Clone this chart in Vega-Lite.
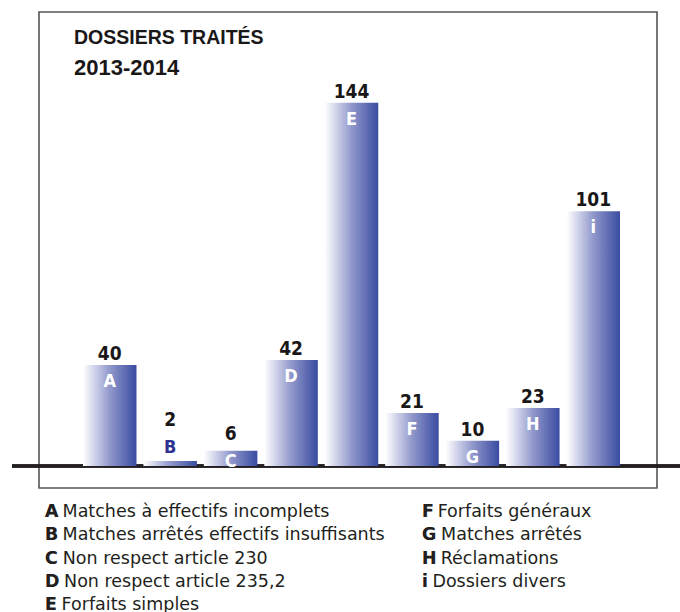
{
  "$schema": "https://vega.github.io/schema/vega-lite/v6.json",
  "autosize": "none",
  "width": 618,
  "height": 476,
  "padding": {"left": 39, "top": 12, "right": 23, "bottom": 124},
  "background": "white",
  "config": {"view": {"stroke": "#555555", "strokeWidth": 1.6}},
  "title": {
    "text": "DOSSIERS TRAITÉS",
    "subtitle": "2013-2014",
    "anchor": "start",
    "frame": "group",
    "orient": "top",
    "font": "Liberation Sans",
    "fontSize": 19.5,
    "fontWeight": "bold",
    "color": "#1a1718",
    "subtitleFont": "Liberation Sans",
    "subtitleFontSize": 22,
    "subtitleFontWeight": "bold",
    "subtitleColor": "#1a1718",
    "subtitlePadding": 10,
    "dx": 35,
    "offset": -68
  },
  "datasets": {
    "bars": [
      {"code": "A", "n": 40},
      {"code": "B", "n": 2},
      {"code": "C", "n": 6},
      {"code": "D", "n": 42},
      {"code": "E", "n": 144},
      {"code": "F", "n": 21},
      {"code": "G", "n": 10},
      {"code": "H", "n": 23},
      {"code": "i", "n": 101}
    ],
    "legend": [
      {"code": "A", "label": "Matches à effectifs incomplets"},
      {"code": "B", "label": "Matches arrêtés effectifs insuffisants"},
      {"code": "C", "label": "Non respect article 230"},
      {"code": "D", "label": "Non respect article 235,2"},
      {"code": "E", "label": "Forfaits simples"},
      {"code": "F", "label": "Forfaits généraux"},
      {"code": "G", "label": "Matches arrêtés"},
      {"code": "H", "label": "Réclamations"},
      {"code": "i", "label": "Dossiers divers"}
    ]
  },
  "layer": [
    {
      "data": {"name": "bars"},
      "encoding": {
        "x": {
          "field": "code",
          "type": "nominal",
          "axis": null,
          "scale": {
            "domain": ["A", "B", "C", "D", "E", "F", "G", "H", "i"],
            "range": [44, 581],
            "paddingInner": 0.115,
            "paddingOuter": 0
          }
        },
        "y": {
          "field": "n",
          "type": "quantitative",
          "axis": null,
          "scale": {"domain": [0, 180], "range": [454, 0], "nice": false}
        }
      },
      "layer": [
        {
          "mark": {"type": "rule", "color": "#231f20", "strokeWidth": 2.5},
          "encoding": {
            "x": {"value": -27},
            "x2": {"value": 641},
            "y": {"datum": 0, "type": "quantitative"}
          }
        },
        {
          "mark": {
            "type": "bar",
            "color": {
              "gradient": "linear",
              "x1": 0, "y1": 0, "x2": 1, "y2": 0,
              "stops": [
                {"offset": 0, "color": "#ffffff"},
                {"offset": 0.2, "color": "#d3d6eb"},
                {"offset": 0.5, "color": "#9198cb"},
                {"offset": 1, "color": "#3a4ca2"}
              ]
            }
          }
        },
        {
          "transform": [{"filter": "datum.code !== 'B' && datum.code !== 'C'"}],
          "mark": {"type": "text", "font": "'DejaVu Sans Condensed', Roboto, sans-serif", "fontSize": 19, "fontWeight": "bold", "color": "#1a1718", "baseline": "alphabetic", "dy": -5},
          "encoding": {"text": {"field": "n"}}
        },
        {
          "transform": [{"filter": "datum.code === 'B'"}],
          "mark": {"type": "text", "font": "'DejaVu Sans Condensed', Roboto, sans-serif", "fontSize": 19, "fontWeight": "bold", "color": "#1a1718", "baseline": "alphabetic", "dy": -35},
          "encoding": {"text": {"field": "n"}}
        },
        {
          "transform": [{"filter": "datum.code === 'C'"}],
          "mark": {"type": "text", "font": "'DejaVu Sans Condensed', Roboto, sans-serif", "fontSize": 19, "fontWeight": "bold", "color": "#1a1718", "baseline": "alphabetic", "dy": -11},
          "encoding": {"text": {"field": "n"}}
        },
        {
          "transform": [{"filter": "datum.code !== 'B' && datum.code !== 'C'"}],
          "mark": {"type": "text", "font": "'DejaVu Sans Condensed', Roboto, sans-serif", "fontSize": 18, "fontWeight": "bold", "color": "#ffffff", "baseline": "alphabetic", "dy": 22},
          "encoding": {"text": {"field": "code"}}
        },
        {
          "transform": [{"filter": "datum.code === 'B'"}],
          "mark": {"type": "text", "font": "'DejaVu Sans Condensed', Roboto, sans-serif", "fontSize": 18, "fontWeight": "bold", "color": "#2e3192", "baseline": "alphabetic", "dy": -8},
          "encoding": {"text": {"field": "code"}}
        },
        {
          "transform": [{"filter": "datum.code === 'C'"}],
          "mark": {"type": "text", "font": "'DejaVu Sans Condensed', Roboto, sans-serif", "fontSize": 18, "fontWeight": "bold", "color": "#ffffff", "baseline": "alphabetic", "dy": 16},
          "encoding": {"text": {"field": "code"}}
        }
      ]
    },
    {
      "data": {"name": "legend"},
      "transform": [
        {"window": [{"op": "row_number", "as": "rn"}]},
        {"calculate": "datum.rn > 5 ? 1 : 0", "as": "col"},
        {"calculate": "datum.rn > 5 ? datum.rn - 6 : datum.rn - 1", "as": "row"},
        {"calculate": "datum.code + ' ' + datum.label", "as": "full"}
      ],
      "encoding": {
        "x": {"field": "col", "type": "quantitative", "axis": null, "scale": {"domain": [0, 1], "range": [6, 383], "nice": false, "zero": false}},
        "y": {"field": "row", "type": "quantitative", "axis": null, "scale": {"domain": [0, 4], "range": [505, 598], "nice": false, "zero": false}}
      },
      "layer": [
        {
          "mark": {"type": "text", "font": "DejaVu Sans", "fontSize": 17.5, "color": "#231f20", "align": "left", "baseline": "alphabetic"},
          "encoding": {"text": {"field": "full"}}
        },
        {
          "mark": {"type": "text", "font": "DejaVu Sans", "fontSize": 17.5, "fontWeight": "bold", "color": "#231f20", "align": "left", "baseline": "alphabetic"},
          "encoding": {"text": {"field": "code"}}
        }
      ]
    }
  ],
  "resolve": {"scale": {"x": "independent", "y": "independent"}}
}
